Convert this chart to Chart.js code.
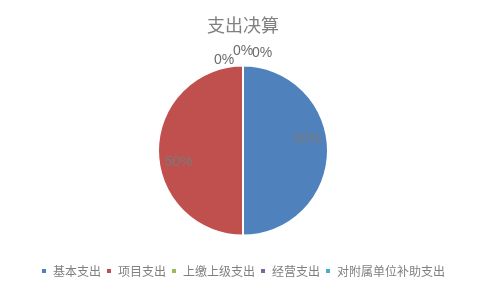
<!DOCTYPE html>
<html>
<head>
<meta charset="utf-8">
<script src="https://cdn.jsdelivr.net/npm/chart.js@4/dist/chart.umd.min.js"></script>
<style>
html,body{margin:0;padding:0;background:#fff;}
#wrap{width:486px;height:294px;}
</style>
</head>
<body>
<div id="wrap"><canvas id="c" width="486" height="294"></canvas></div>
<script>
const titleText = "支出决算";
const categories = ["基本支出", "项目支出", "上缴上级支出", "经营支出", "对附属单位补助支出"];
const values = [50, 50, 0, 0, 0];
const colors = ["#4F81BD", "#C0504D", "#9BBB59", "#8064A2", "#4BACC6"];

const labelPlugin = {
  id: 'pctLabels',
  afterDatasetsDraw(chart) {
    const ctx = chart.ctx;
    const meta = chart.getDatasetMeta(0);
    const total = values.reduce((a, b) => a + b, 0);
    let zeroIdx = 0;
    const zeroOff = [[-19, -5], [0, -14], [19, -12]];
    ctx.save();
    ctx.textAlign = 'center';
    ctx.textBaseline = 'middle';
    meta.data.forEach((arc, i) => {
      const p = Math.round(values[i] / total * 100) + '%';
      const r = arc.outerRadius;
      ctx.font = '14px "Liberation Sans", Arial, sans-serif';
      if (values[i] > 0) {
        const mid = (arc.startAngle + arc.endAngle) / 2 - 10 * Math.PI / 180;
        const x = arc.x + Math.cos(mid) * r * 0.77;
        const y = arc.y + Math.sin(mid) * r * 0.77;
        ctx.fillStyle = '#7a7a7a';
        ctx.fillText(p, x, y);
      } else {
        const a = arc.startAngle;
        const bx = arc.x + Math.cos(a) * r;
        const by = arc.y + Math.sin(a) * r;
        const o = zeroOff[zeroIdx % zeroOff.length];
        zeroIdx++;
        ctx.fillStyle = '#6a6a6a';
        ctx.fillText(p, bx + o[0], by + o[1]);
      }
    });
    ctx.restore();
  }
};

new Chart(document.getElementById('c'), {
  type: 'pie',
  data: {
    labels: categories,
    datasets: [{
      data: values,
      backgroundColor: colors,
      borderColor: '#ffffff',
      borderWidth: 2
    }]
  },
  options: {
    responsive: false,
    animation: false,
    layout: { padding: { left: 0, right: 0, top: 0, bottom: 7 } },
    plugins: {
      title: {
        display: true,
        text: titleText,
        color: '#808080',
        font: { size: 18, family: '"Noto Sans CJK SC", sans-serif', weight: 'normal' },
        padding: { top: 14, bottom: 29 }
      },
      legend: {
        position: 'bottom',
        title: {
          display: true,
          text: ' ',
          font: { size: 2 },
          padding: { top: 21, bottom: 0 }
        },
        labels: {
          boxWidth: 6,
          boxHeight: 6,
          padding: 5,
          color: '#808080',
          font: { size: 12, family: '"Noto Sans CJK SC", sans-serif' }
        }
      },
      tooltip: { enabled: false }
    }
  },
  plugins: [labelPlugin]
});
</script>
</body>
</html>
